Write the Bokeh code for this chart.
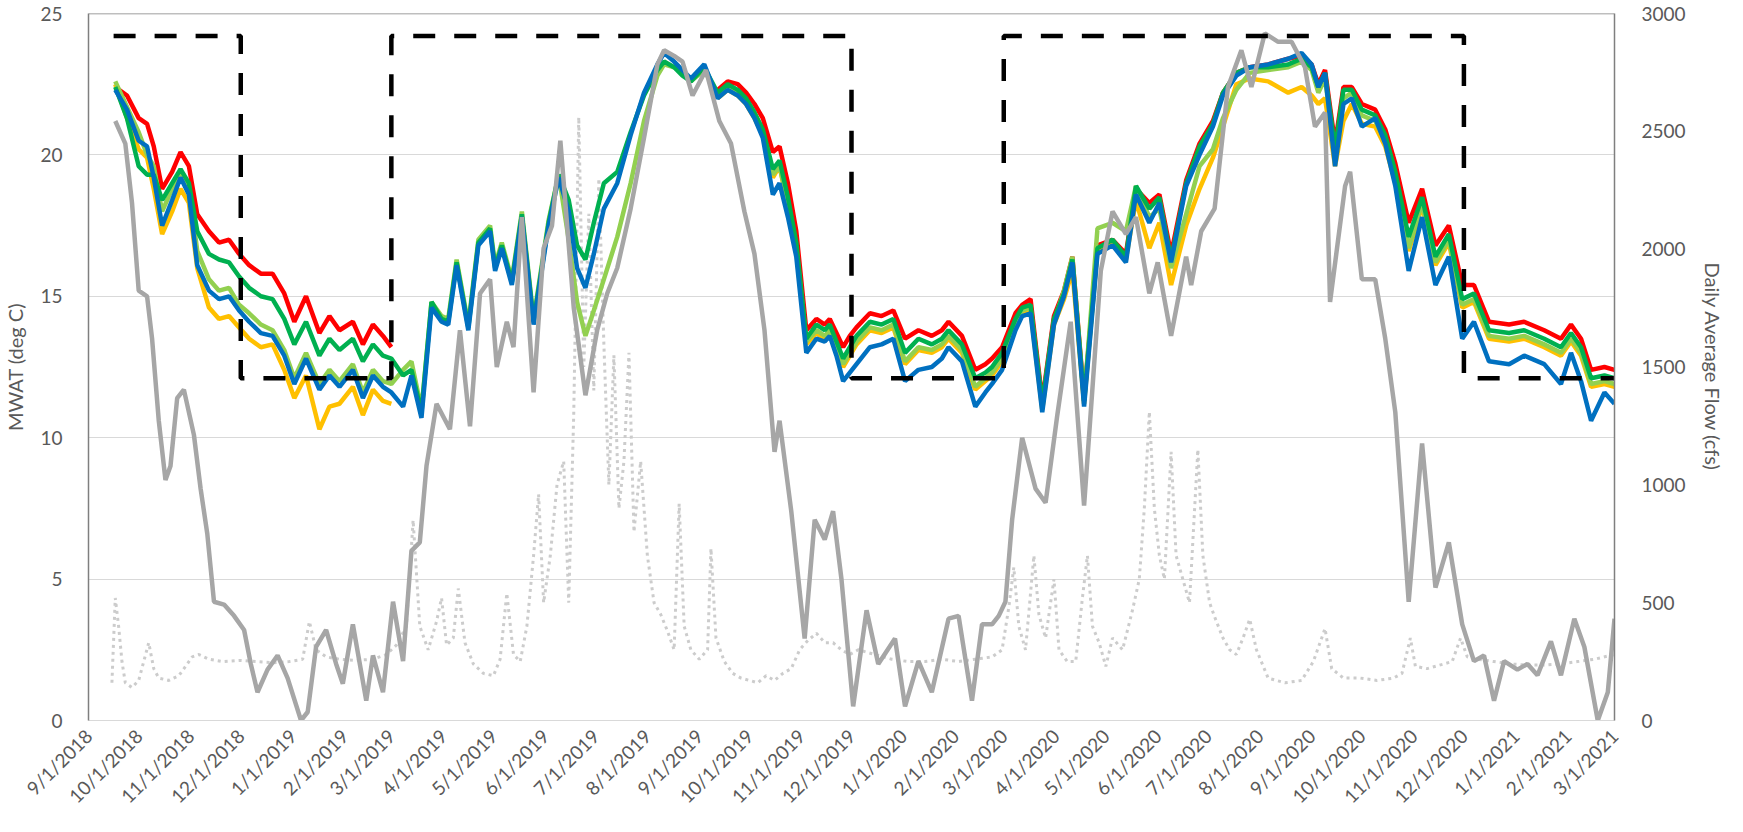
import math
import numpy as np
import pandas as pd
from bokeh.plotting import figure
from bokeh.models import Range1d, LinearAxis, FixedTicker, CustomJSTickFormatter, Span
from bokeh.embed import file_html
from bokeh.resources import INLINE

N = float("nan")
BASE = pd.Timestamp("2018-09-01")

# ---- temperature series (MWAT, deg C); x = days after 9/1/2018 ----
temp_days = [16, 23, 30, 35, 39, 44, 50, 55, 60, 65,
             72, 78, 84, 90, 96, 103, 110, 117, 123, 130,
             138, 144, 150, 158, 164, 170, 176, 181, 188, 193,
             199, 205, 211, 215, 220, 227, 233, 240, 243, 247,
             253, 259, 266, 275, 281, 287, 292, 297, 302, 308,
             316, 324, 332, 340, 344, 350, 355, 360, 368, 376,
             382, 388, 393, 398, 403, 409, 413, 418, 423, 429,
             435, 440, 443, 447, 451, 455, 459, 467, 474, 481,
             488, 496, 504, 510, 514, 522, 530, 536, 540, 546,
             554, 558, 563, 570, 577, 583, 588, 595, 603, 612,
             620, 626, 634, 640, 647, 656, 664, 672, 678, 686,
             694, 705, 717, 725, 731, 735, 739, 745, 750, 755,
             761, 769, 775, 781, 789, 797, 805, 813, 821, 828,
             837, 849, 858, 870, 880, 886, 892, 898, 906, 912]

blue = [22.3, 21.6, 20.5, 20.3, 19.2, 17.5, 18.4, 19.2, 18.6, 16.1,
        15.2, 14.9, 15.0, 14.5, 14.1, 13.7, 13.6, 12.9, 11.9, 12.8,
        11.7, 12.2, 11.8, 12.4, 11.4, 12.2, 11.8, 11.6, 11.1, 12.2,
        10.7, 14.6, 14.1, 14.0, 16.1, 13.8, 16.8, 17.3, 15.9, 16.7,
        15.4, 17.8, 14.0, 17.5, 19.2, 18.0, 16.0, 15.3, 16.5, 18.1,
        19.0, 20.7, 22.2, 23.2, 23.6, 23.3, 23.0, 22.7, 23.2, 22.0,
        22.3, 22.1, 21.8, 21.3, 20.6, 18.6, 19.0, 17.8, 16.4, 13.0,
        13.5, 13.4, 13.6, 12.9, 12.0, 12.3, 12.6, 13.2, 13.3, 13.5,
        12.0, 12.4, 12.5, 12.8, 13.2, 12.7, 11.1, 11.6, 11.9, 12.4,
        13.8, 14.3, 14.4, 10.9, 14.0, 15.0, 16.2, 11.1, 16.5, 16.8,
        16.2, 18.6, 17.6, 18.3, 16.2, 18.9, 20.0, 21.0, 22.1, 22.8,
        23.1, 23.2, 23.4, 23.6, 23.2, 22.4, 22.9, 19.6, 21.8, 22.0,
        21.0, 21.3, 20.4, 18.9, 15.9, 17.8, 15.4, 16.4, 13.5, 14.1,
        12.7, 12.6, 12.9, 12.6, 11.9, 13.0, 12.0, 10.6, 11.6, 11.2]

red = [22.4, 22.1, 21.3, 21.1, 20.3, 18.8, 19.4, 20.1, 19.6, 17.9,
       17.3, 16.9, 17.0, 16.5, 16.1, 15.8, 15.8, 15.1, 14.1, 15.0,
       13.7, 14.3, 13.8, 14.1, 13.3, 14.0, 13.6, 13.2, N, N,
       N, N, N, N, N, N, N, N, N, N,
       N, N, N, N, N, N, N, N, N, N,
       N, N, N, N, N, N, N, N, N, 22.3,
       22.6, 22.5, 22.2, 21.8, 21.3, 20.1, 20.3, 19.0, 17.3, 13.8,
       14.2, 14.0, 14.2, 13.7, 13.2, 13.6, 13.9, 14.4, 14.3, 14.5,
       13.5, 13.8, 13.6, 13.8, 14.1, 13.6, 12.4, 12.6, 12.8, 13.2,
       14.4, 14.7, 14.9, 11.3, 14.3, 15.2, 16.4, 11.4, 16.8, 17.0,
       16.5, 18.8, 18.3, 18.6, 16.5, 19.1, 20.4, 21.2, 22.2, 22.9,
       23.1, 23.2, 23.4, 23.5, 23.2, 22.5, 23.0, 20.4, 22.4, 22.4,
       21.8, 21.6, 20.9, 19.7, 17.6, 18.8, 16.8, 17.5, 15.4, 15.4,
       14.1, 14.0, 14.1, 13.8, 13.5, 14.0, 13.5, 12.4, 12.5, 12.4]

green = [22.4, 21.3, 19.6, 19.3, 19.3, 18.4, 19.0, 19.5, 19.0, 17.3,
         16.5, 16.3, 16.2, 15.7, 15.3, 15.0, 14.9, 14.2, 13.3, 14.1,
         12.9, 13.5, 13.1, 13.5, 12.7, 13.3, 12.9, 12.8, 12.2, 12.4,
         10.9, 14.8, 14.2, 14.1, 16.2, 13.9, 16.9, 17.4, 16.0, 16.8,
         15.5, 17.9, 14.1, 17.6, 19.3, 18.4, 16.8, 16.3, 17.6, 19.0,
         19.4, 20.8, 22.1, 23.0, 23.3, 23.1, 22.8, 22.6, 23.1, 22.2,
         22.5, 22.3, 22.0, 21.5, 20.9, 19.5, 19.8, 18.5, 16.9, 13.5,
         14.0, 13.8, 14.0, 13.4, 12.8, 13.2, 13.6, 14.1, 14.0, 14.2,
         13.0, 13.5, 13.3, 13.5, 13.8, 13.3, 12.1, 12.3, 12.5, 13.0,
         14.2, 14.6, 14.7, 11.2, 14.2, 15.1, 16.3, 11.3, 16.7, 17.0,
         16.4, 18.9, 18.1, 18.5, 16.3, 19.0, 20.3, 21.1, 22.2, 22.9,
         23.1, 23.1, 23.2, 23.4, 23.1, 22.4, 22.9, 20.2, 22.3, 22.3,
         21.6, 21.4, 20.7, 19.4, 17.1, 18.5, 16.4, 17.2, 14.9, 15.1,
         13.8, 13.7, 13.8, 13.5, 13.2, 13.7, 13.2, 12.1, 12.2, 12.1]

light_green = [22.6, 21.7, 20.8, 20.0, 19.6, 18.0, 18.8, 19.4, 18.9, 16.6,
               15.6, 15.2, 15.3, 14.7, 14.4, 14.0, 13.8, 13.1, 12.1, 13.0,
               11.9, 12.4, 12.0, 12.6, 11.6, 12.4, 12.0, 11.9, 12.4, 12.7,
               11.0, 14.8, 14.3, 14.2, 16.3, 14.0, 17.0, 17.5, 16.1, 16.9,
               15.6, 18.0, 14.2, 17.7, 19.3, 17.0, 14.8, 13.6, 14.5, 15.6,
               17.1, 19.0, 21.2, 22.8, 23.2, 23.1, 22.9, 22.6, 23.0, 22.1,
               22.4, 22.2, 21.9, 21.4, 20.8, 19.3, 19.6, 18.3, 16.7, 13.4,
               13.8, 13.6, 13.8, 13.2, 12.6, 13.0, 13.4, 13.9, 13.8, 14.0,
               12.7, 13.2, 13.1, 13.3, 13.6, 13.1, 11.8, 12.1, 12.3, 12.8,
               14.1, 14.5, 14.6, 11.1, 14.1, 15.2, 16.4, 11.3, 17.4, 17.6,
               17.3, 18.9, 17.8, 18.1, 16.0, 17.9, 19.6, 20.2, 21.3, 22.3,
               22.9, 23.0, 23.1, 23.3, 23.0, 22.2, 22.7, 20.0, 22.0, 22.2,
               21.4, 21.2, 20.5, 19.2, 16.7, 18.3, 16.2, 17.0, 14.7, 14.9,
               13.6, 13.5, 13.6, 13.3, 13.0, 13.5, 13.0, 11.9, 12.0, 11.9]

yellow = [22.5, 21.3, 20.2, 19.9, 18.8, 17.2, 18.0, 18.8, 18.3, 16.0,
          14.6, 14.2, 14.3, 13.9, 13.5, 13.2, 13.3, 12.4, 11.4, 12.2,
          10.3, 11.1, 11.2, 11.8, 10.8, 11.7, 11.3, 11.2, N, N,
          N, N, N, N, N, N, N, N, N, N,
          N, N, N, N, N, N, N, N, N, N,
          N, N, N, N, N, N, N, N, N, 22.0,
          22.3, 22.1, 21.8, 21.3, 20.7, 19.2, 19.6, 18.2, 16.6, 13.3,
          13.7, 13.5, 13.7, 13.1, 12.5, 12.9, 13.3, 13.8, 13.7, 13.9,
          12.6, 13.1, 13.0, 13.2, 13.5, 13.0, 11.7, 12.0, 12.2, 12.7,
          14.0, 14.4, 14.5, 11.0, 14.0, 14.9, 15.9, 11.2, 16.6, 16.9,
          16.3, 18.4, 16.7, 17.6, 15.4, 17.5, 18.8, 19.9, 21.0, 22.5,
          22.7, 22.6, 22.2, 22.4, 22.1, 21.8, 22.0, 19.6, 21.2, 21.8,
          21.1, 21.0, 20.3, 19.0, 16.6, 18.2, 16.1, 16.9, 14.6, 14.8,
          13.5, 13.4, 13.5, 13.2, 12.9, 13.4, 12.9, 11.8, 11.9, 11.8]

# ---- gray solid temperature series ----
gray_days = [16, 22, 26, 30, 35, 38, 42, 46, 49, 53,
             57, 63, 67, 71, 75, 81, 87, 93, 97, 101,
             107, 113, 119, 127, 131, 136, 142, 148, 152, 158,
             166, 170, 176, 182, 188, 193, 198, 202, 208, 216,
             222, 228, 234, 240, 244, 250, 254, 259, 266, 272,
             277, 282, 290, 297, 304, 310, 316, 324, 332, 340,
             344, 350, 355, 361, 369, 377, 384, 392, 398, 404,
             410, 413, 420, 428, 434, 440, 445, 450, 457, 465,
             472, 482, 488, 496, 504, 514, 520, 528, 534, 540,
             544, 548, 552, 558, 566, 572, 579, 587, 595, 605,
             612, 620, 626, 634, 639, 647, 656, 659, 665, 673,
             681, 689, 695, 703, 711, 719, 727, 733, 739, 742,
             751, 754, 761, 769, 775, 781, 789, 797, 805, 813,
             821, 828, 834, 840, 846, 854, 860, 866, 874, 880,
             888, 894, 902, 908, 912]
gray_vals = [21.2, 20.4, 18.3, 15.2, 15.0, 13.5, 10.6, 8.5, 9.0, 11.4,
             11.7, 10.1, 8.2, 6.6, 4.2, 4.1, 3.7, 3.2, 2.0, 1.0,
             1.8, 2.3, 1.5, 0.0, 0.3, 2.6, 3.2, 2.0, 1.3, 3.4,
             0.7, 2.3, 1.0, 4.2, 2.1, 6.0, 6.3, 9.0, 11.2, 10.3,
             13.8, 10.4, 15.1, 15.6, 12.5, 14.1, 13.2, 17.8, 11.6, 16.7,
             17.5, 20.5, 14.6, 11.5, 13.8, 15.1, 16.0, 18.1, 20.6, 23.2,
             23.7, 23.5, 23.3, 22.1, 23.0, 21.2, 20.4, 18.0, 16.5, 13.8,
             9.5, 10.6, 7.4, 2.9, 7.1, 6.4, 7.4, 5.0, 0.5, 3.9,
             2.0, 2.9, 0.5, 2.1, 1.0, 3.6, 3.7, 0.7, 3.4, 3.4,
             3.7, 4.2, 7.1, 10.0, 8.2, 7.7, 10.8, 14.1, 7.6, 15.9,
             18.0, 17.2, 17.8, 15.1, 16.2, 13.6, 16.4, 15.4, 17.3, 18.1,
             22.4, 23.7, 22.4, 24.3, 24.0, 24.0, 23.1, 21.0, 21.5, 14.8,
             18.9, 19.4, 15.6, 15.6, 13.5, 10.9, 4.2, 9.8, 4.7, 6.3,
             3.4, 2.1, 2.3, 0.7, 2.1, 1.8, 2.0, 1.6, 2.8, 1.6,
             3.6, 2.6, 0.0, 1.0, 3.6]

# ---- daily average flow (cfs), right axis ----
flow_days = [14, 16, 18, 20, 22, 26, 30, 33, 36, 39, 42, 48, 54, 58, 62, 66, 72, 80, 90, 100,
             110, 120, 128, 132, 136, 142, 150, 160, 170, 178, 184, 190, 194, 198, 203, 208, 211, 214, 218, 221,
             225, 230, 236, 242, 246, 250, 254, 258, 262, 266, 269, 272, 276, 280, 284, 287, 290, 293, 296, 299,
             302, 305, 308, 311, 314, 317, 320, 323, 326, 330, 334, 338, 342, 346, 350, 353, 356, 360, 365, 370,
             372, 375, 380, 385, 390, 395, 400, 405, 410, 415, 420, 425, 430, 435, 440, 445, 450, 455, 460, 470,
             480, 490, 500, 510, 520, 530, 540, 546, 550, 553, 556, 560, 565, 568, 572, 577, 580, 585, 590, 594,
             597, 600, 604, 608, 612, 618, 624, 628, 631, 634, 637, 640, 643, 647, 650, 654, 658, 663, 666, 670,
             673, 678, 682, 686, 690, 694, 698, 705, 715, 725, 732, 739, 743, 750, 760, 770, 780, 785, 790, 793,
             800, 810, 815, 820, 824, 830, 840, 850, 860, 870, 880, 890, 900, 912]
flow_vals = [160, 520, 400, 250, 160, 140, 170, 250, 330, 220, 180, 170, 190, 230, 270, 280, 260, 250, 255, 250,
             245, 250, 260, 420, 300, 270, 260, 255, 260, 280, 320, 400, 850, 400, 300, 420, 520, 320, 350, 560,
             330, 240, 200, 190, 260, 540, 280, 250, 400, 700, 960, 500, 700, 1000, 1100, 500, 1300, 2560, 1500, 2150,
             1400, 2300, 1600, 1000, 1550, 900, 1100, 1560, 800, 1100, 700, 500, 450, 380, 300, 920, 400, 300, 260, 300,
             730, 350, 250, 200, 180, 170, 160, 190, 170, 200, 220, 300, 340, 370, 330, 330, 300, 280, 300, 280,
             260, 250, 250, 260, 250, 260, 270, 300, 480, 650, 400, 300, 700, 450, 350, 600, 300, 250, 250, 520,
             700, 400, 330, 230, 350, 300, 470, 600, 900, 1310, 900, 700, 600, 1140, 700, 600, 500, 1150, 700, 500,
             440, 350, 300, 280, 350, 430, 300, 180, 160, 170, 250, 390, 220, 180, 180, 170, 180, 200, 350, 230,
             220, 240, 250, 350, 270, 260, 250, 240, 235, 235, 240, 250, 260, 280]

# ---- temperature standard (step line) ----
std_dates = ["2018-09-16", "2018-12-01", "2018-12-01", "2019-03-01", "2019-03-01", "2019-12-01",
             "2019-12-01", "2020-03-01", "2020-03-01", "2020-12-01", "2020-12-01", "2021-03-01"]
std_vals = [24.2, 24.2, 12.1, 12.1, 24.2, 24.2, 12.1, 12.1, 24.2, 24.2, 12.1, 12.1]

left_ticks = [0, 5, 10, 15, 20, 25]
right_ticks = [0, 500, 1000, 1500, 2000, 2500, 3000]

for name, arr in [("blue", blue), ("red", red), ("green", green), ("lg", light_green), ("yellow", yellow)]:
    assert len(arr) == len(temp_days), (name, len(arr), len(temp_days))
assert len(gray_vals) == len(gray_days), (len(gray_vals), len(gray_days))
assert len(flow_vals) == len(flow_days), (len(flow_vals), len(flow_days))


def to_dt(days):
    return BASE + pd.to_timedelta(np.asarray(days), unit="D")


tdates = to_dt(temp_days)

p = figure(width=1727, height=818, x_axis_type="datetime", output_backend="svg",
           toolbar_location=None,
           x_range=Range1d(BASE, BASE + pd.Timedelta(days=912)), y_range=Range1d(0, 25),
           min_border_left=79, min_border_right=111, min_border_top=13, min_border_bottom=95)
p.extra_y_ranges = {"flow": Range1d(0, 3000)}
p.outline_line_color = None
p.background_fill_color = "white"
p.border_fill_color = "white"

FONT = "Lato"
TXT = "#595959"

# flow (dotted)
p.line(to_dt(flow_days), flow_vals, y_range_name="flow", line_color="#cccccc",
       line_width=3, line_dash="3 4")

p.line(tdates, red, line_color="#ff0000", line_width=4.5)
p.line(tdates, yellow, line_color="#ffc000", line_width=4.5)
p.line(tdates, light_green, line_color="#92d050", line_width=4.5)
p.line(tdates, green, line_color="#00b050", line_width=4.5)
p.line(tdates, blue, line_color="#0070c0", line_width=4.5)
p.line(to_dt(gray_days), gray_vals, line_color="#a6a6a6", line_width=4.5)
p.line(pd.to_datetime(std_dates), std_vals, line_color="black", line_width=4.5,
       line_dash="22 19")

p.add_layout(Span(location=25, dimension="width", line_color="#7f7f7f", line_width=1.5))

# x axis
month_ticks = pd.date_range("2018-09-01", "2021-03-01", freq="MS")
ms = [(t - pd.Timestamp("1970-01-01")) / pd.Timedelta(milliseconds=1) for t in month_ticks]
xa = p.xaxis[0]
xa.ticker = FixedTicker(ticks=ms)
xa.formatter = CustomJSTickFormatter(code="""
const d = new Date(tick);
return (d.getUTCMonth()+1) + "/" + d.getUTCDate() + "/" + d.getUTCFullYear();
""")
xa.major_label_orientation = math.pi / 4
xa.major_label_text_font = FONT
xa.major_label_text_font_size = "19px"
xa.major_label_text_color = TXT
xa.major_tick_line_color = None
xa.minor_tick_line_color = None
xa.axis_line_color = "#d9d9d9"
xa.major_label_standoff = 6
p.xgrid.visible = False

# left axis
ya = p.yaxis[0]
ya.ticker = FixedTicker(ticks=left_ticks)
ya.axis_label = "MWAT (deg C)"
ya.axis_label_text_font = FONT
ya.axis_label_text_font_size = "20px"
ya.axis_label_text_font_style = "normal"
ya.axis_label_text_color = TXT
ya.axis_label_standoff = 10
ya.major_label_text_font = FONT
ya.major_label_text_font_size = "19px"
ya.major_label_text_color = TXT
ya.major_label_standoff = 20
ya.major_tick_line_color = None
ya.minor_tick_line_color = None
ya.axis_line_color = "#7f7f7f"
ya.axis_line_width = 1.5
p.ygrid.ticker = FixedTicker(ticks=[5, 10, 15, 20])
p.ygrid.grid_line_color = "#d9d9d9"

# right axis
ra = LinearAxis(y_range_name="flow", ticker=FixedTicker(ticks=right_ticks),
                axis_label="Daily Average Flow (cfs)")
ra.axis_label_text_font = FONT
ra.axis_label_text_font_size = "20px"
ra.axis_label_text_font_style = "normal"
ra.axis_label_text_color = TXT
ra.axis_label_standoff = 12
ra.major_label_text_font = FONT
ra.major_label_text_font_size = "19px"
ra.major_label_text_color = TXT
ra.major_label_standoff = 21
ra.major_tick_line_color = None
ra.minor_tick_line_color = None
ra.axis_line_color = "#7f7f7f"
ra.axis_line_width = 1.5
p.add_layout(ra, "right")

open("out.html", "w").write(file_html(p, INLINE))
